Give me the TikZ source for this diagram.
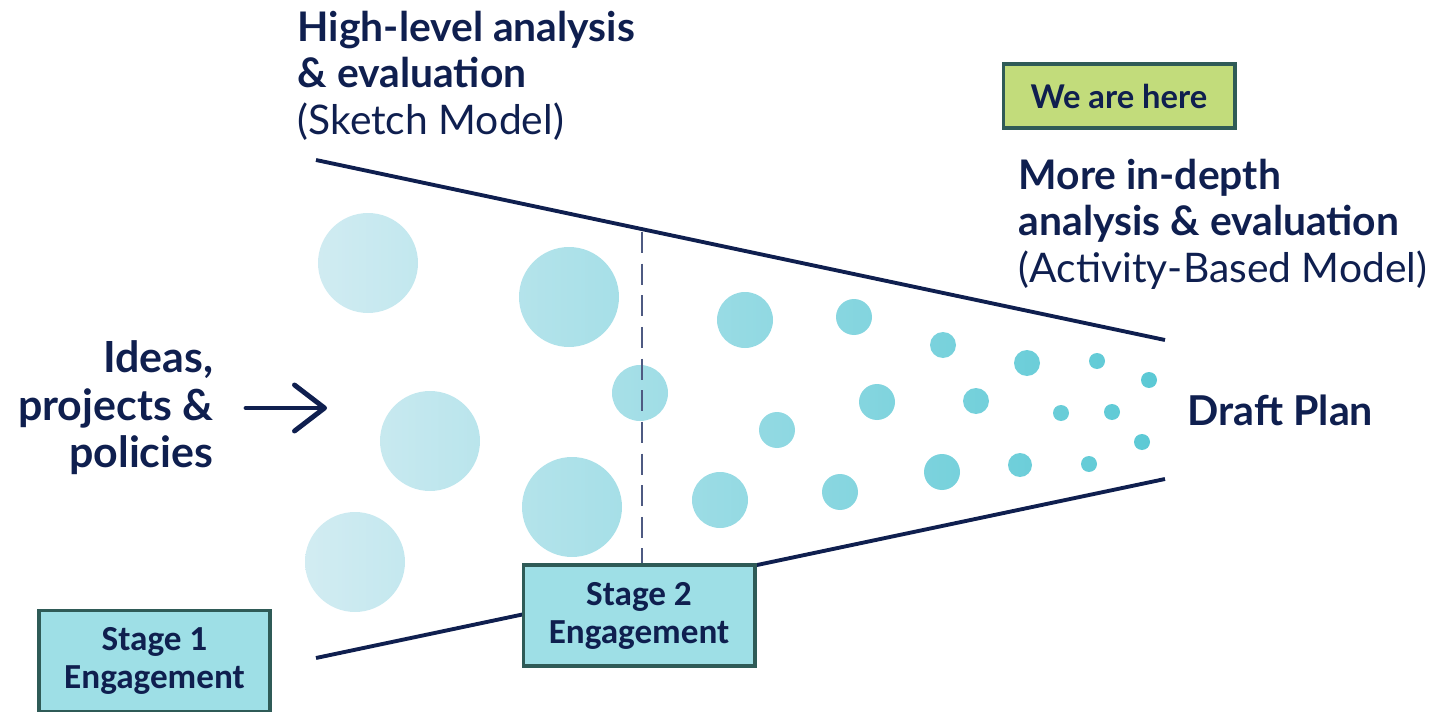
\documentclass[tikz,border=0pt]{standalone}
\usepackage{fontspec}
\setmainfont{Lato}
\newfontfamily\stagefont{Carlito}
\usetikzlibrary{arrows.meta}

\definecolor{navy}{HTML}{0F1F4F}
\definecolor{dashnavy}{HTML}{4E5A82}
\definecolor{stagefill}{HTML}{9EDFE6}
\definecolor{boxedge}{HTML}{2F5B57}
\definecolor{herefill}{HTML}{C2DC7B}
\definecolor{dotlight}{HTML}{D2ECF2}
\definecolor{dotmid}{HTML}{B0E0E8}
\definecolor{dotdark}{HTML}{5BC9D5}

\tikzset{
  heading/.style={align=left, text=navy, inner sep=0pt, anchor=north west,
    font=\fontsize{11.6}{13.3}\selectfont},
  stagebox/.style={draw=boxedge, line width=1.1pt, fill=stagefill, text=navy,
    align=center, minimum width=2.31cm, minimum height=1.01cm,
    font=\stagefont\bfseries\fontsize{10}{10.8}\selectfont},
  funnel/.style={draw=navy, line width=1.1pt},
}

\begin{document}
\begin{tikzpicture}[x=0.01cm, y=-0.01cm]
  \useasboundingbox (0,0) rectangle (1447,712);

  % dots, pale on the left, stronger towards the plan
  \shade[left color=dotlight, middle color=dotmid, right color=dotdark]
    \foreach \cx/\cy/\r in {368/263/50, 430/441/50, 355/562/50, 569/297/50,
      572/507/50, 640/393/28, 745/320/28, 720/500/28,
      854/317/18, 877/402/18, 777/430/18, 840/492/18, 942/472/18,
      943/345/13, 1027/363/13, 976/401/13, 1020/465/12,
      1097/361/8, 1149/380/8, 1061/413/8, 1112/412/8, 1142/442/8, 1089/464/8}
    { (\cx,\cy) circle (\r) };

  \coordinate (topleft) at (316,160);
  \coordinate (topright) at (1165,340);
  \coordinate (botleft) at (316,658);
  \coordinate (botright) at (1165,479);
  \coordinate (dashtop) at (642,232);
  \draw[funnel] (topleft) -- (topright);
  \draw[funnel] (botleft) -- (botright);

  \node[stagebox] (stage1) at (154.5,661) {Stage 1\\Engagement};
  \node[stagebox] (stage2) at (639,615.5) {Stage 2\\Engagement};
  \draw[dashnavy, line width=0.8pt, dash pattern=on 6pt off 3pt]
    (dashtop) -- (dashtop |- stage2.north);

  \node[stagebox, fill=herefill, minimum height=0.64cm,
    font=\bfseries\fontsize{9.3}{12}\selectfont] (here) at (1119,96) {We are here};

  \node[heading] (sketch) at (297,10)
    {\textbf{High-level analysis}\\\textbf{\& evaluation}\\(Sketch Model)};
  \node[heading] (abm) at (1018,158)
    {\textbf{More in-depth}\\\textbf{analysis \& evaluation}\\(Activity-Based Model)};

  \node[align=right, text=navy, anchor=east, inner sep=0pt,
    font=\bfseries\fontsize{12.2}{13.5}\selectfont] (ideas) at (214,408)
    {Ideas,\\projects \&\\policies};
  \coordinate (arrowstart) at (246,408);
  \coordinate (arrowend) at (327,408);
  \draw[navy, line width=1.4pt, line cap=round,
    -{Straight Barb[length=0.3cm, width=0.46cm, round]}] (arrowstart) -- (arrowend);

  \node[text=navy, anchor=west, inner sep=0pt,
    font=\bfseries\fontsize{11.7}{13}\selectfont] (plan) at (1187,410) {Draft Plan};
\end{tikzpicture}
\end{document}
